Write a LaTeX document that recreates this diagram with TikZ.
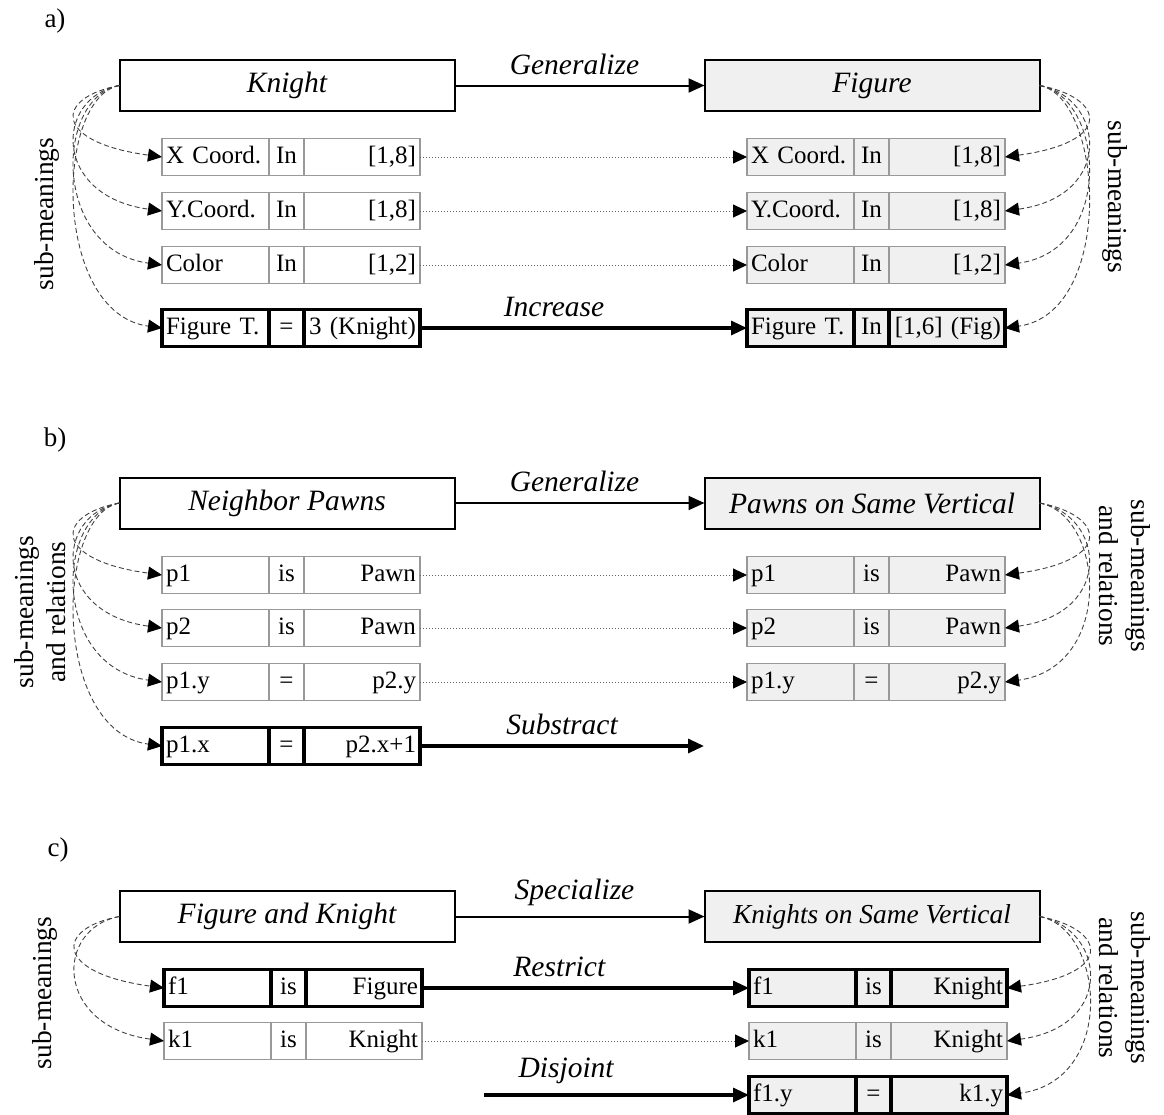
\documentclass[tikz,border=0pt]{standalone}
\usepackage{fontspec}
\setmainfont{Liberation Serif}
\usetikzlibrary{positioning,arrows.meta}

\tikzset{
  head/.style={draw, line width=1pt, minimum width=167.5pt, minimum height=25.5pt, outer sep=0pt, font=\fontsize{14.75}{17}\selectfont\itshape},
  cell/.style={draw=black!40, line width=0.6pt, minimum height=18.5pt, inner xsep=2pt, inner ysep=0pt, outer sep=0pt, text height=9pt, text depth=2.5pt, font=\fontsize{12.5}{14}\selectfont},
  c1/.style={anchor=west, text width=49.5pt, align=left},
  c2/.style={text width=13.5pt, align=center},
  c3/.style={text width=54pt, align=right},
  bold/.style={draw=black, line width=1.7pt},
  tinted/.style={fill=black!6},
  conn/.style={-{Triangle[length=8pt,width=7pt]}, line width=1pt},
  thickconn/.style={-{Triangle[length=8pt,width=7pt]}, line width=1.6pt},
  dots/.style={-{Triangle[length=7pt,width=6.5pt,color=black]}, densely dotted, draw=black!60, line width=0.5pt},
  sub/.style={-{Triangle[length=7pt,width=6.5pt,color=black]}, dash pattern=on 2.5pt off 1.5pt, draw=black!75, line width=0.45pt},
  lbl/.style={above, inner sep=5pt, font=\fontsize{14.75}{17}\selectfont\itshape},
  side/.style={font=\fontsize{13.7}{16}\selectfont, align=center},
  tag/.style={font=\fontsize{13.5}{16}\selectfont},
}

% one row of three cells: name, position, texts, extra style
\newcommand{\cellrow}[6]{%
  \node[cell,c1,#6] (#1-1) at (#2) {#3};
  \node[cell,c2,#6,right=0pt of #1-1] (#1-2) {#4};
  \node[cell,c3,#6,right=0pt of #1-2] (#1-3) {#5};
}

\begin{document}
\begin{tikzpicture}[x=0.5pt,y=-0.5pt]
  \useasboundingbox (0,0) rectangle (1164,1115);

  % a)
  \node[tag] (a-tag) at (55,21) {a)};
  \node[head] (a-kn) at (287,85.5) {Knight};
  \node[head,tinted] (a-fig) at (872,85.5) {Figure};
  \cellrow{a-l1}{162,157}{X Coord.}{In}{[1,8]}{}
  \cellrow{a-l2}{162,211}{Y.Coord.}{In}{[1,8]}{}
  \cellrow{a-l3}{162,265}{Color}{In}{[1,2]}{}
  \cellrow{a-l4}{162,328}{Figure T.}{=}{3 (Knight)}{bold}
  \cellrow{a-r1}{747,157}{X Coord.}{In}{[1,8]}{tinted}
  \cellrow{a-r2}{747,211}{Y.Coord.}{In}{[1,8]}{tinted}
  \cellrow{a-r3}{747,265}{Color}{In}{[1,2]}{tinted}
  \cellrow{a-r4}{747,328}{Figure T.}{In}{[1,6] (Fig)}{bold,tinted}
  \draw[conn] (a-kn) -- (a-fig) node[lbl,pos=.48] {Generalize};
  \draw[thickconn] (a-l4-3) -- (a-r4-1) node[lbl,pos=.41] {Increase};
  \foreach \r in {1,2,3} \draw[dots] (a-l\r-3) -- (a-r\r-1);
  \foreach \r in {1,...,4} {
    \draw[sub] (a-kn.west) .. controls +(-65,12) and +(-110,-15) .. (a-l\r-1.west);
    \draw[sub] (a-fig.east) .. controls +(65,12) and +(110,-15) .. (a-r\r-3.east);
  }
  \node[side,rotate=90] (a-ls) at (47,214) {sub-meanings};
  \node[side,rotate=-90] (a-rs) at (1115,197) {sub-meanings};

  % b)
  \node[tag] (b-tag) at (55,440) {b)};
  \node[head] (b-np) at (287,503) {Neighbor Pawns};
  \node[head,tinted] (b-sv) at (872,503) {Pawns on Same Vertical};
  \cellrow{b-l1}{162,575}{p1}{is}{Pawn}{}
  \cellrow{b-l2}{162,628}{p2}{is}{Pawn}{}
  \cellrow{b-l3}{162,682}{p1.y}{=}{p2.y}{}
  \cellrow{b-l4}{162,746}{p1.x}{=}{p2.x+1}{bold}
  \cellrow{b-r1}{747,575}{p1}{is}{Pawn}{tinted}
  \cellrow{b-r2}{747,628}{p2}{is}{Pawn}{tinted}
  \cellrow{b-r3}{747,682}{p1.y}{=}{p2.y}{tinted}
  \coordinate (b-end) at (704,746);
  \draw[conn] (b-np) -- (b-sv) node[lbl,pos=.48] {Generalize};
  \draw[thickconn] (b-l4-3) -- (b-end) node[lbl,pos=.5] {Substract};
  \foreach \r in {1,2,3} \draw[dots] (b-l\r-3) -- (b-r\r-1);
  \foreach \r in {1,...,4}
    \draw[sub] (b-np.west) .. controls +(-65,12) and +(-110,-15) .. (b-l\r-1.west);
  \foreach \r in {1,2,3}
    \draw[sub] (b-sv.east) .. controls +(65,12) and +(110,-15) .. (b-r\r-3.east);
  \node[side,rotate=90] (b-ls) at (40,612) {sub-meanings\\and relations};
  \node[side,rotate=-90] (b-rs) at (1125,576) {sub-meanings\\and relations};

  % c)
  \node[tag] (c-tag) at (58,850) {c)};
  \node[head] (c-fk) at (287,916.5) {Figure and Knight};
  \node[head,tinted,font=\fontsize{13.7}{16}\selectfont\itshape] (c-kv) at (872,916.5) {Knights on Same Vertical};
  \cellrow{c-l1}{164,988}{f1}{is}{Figure}{bold}
  \cellrow{c-l2}{164,1041}{k1}{is}{Knight}{}
  \cellrow{c-r1}{749,988}{f1}{is}{Knight}{bold,tinted}
  \cellrow{c-r2}{749,1041}{k1}{is}{Knight}{tinted}
  \cellrow{c-r3}{749,1095}{f1.y}{=}{k1.y}{bold,tinted}
  \coordinate (c-start) at (484,1095);
  \draw[conn] (c-fk) -- (c-kv) node[lbl,pos=.48] {Specialize};
  \draw[thickconn] (c-l1-3) -- (c-r1-1) node[lbl,pos=.42] {Restrict};
  \draw[thickconn] (c-start) -- (c-r3-1) node[lbl,pos=.31] {Disjoint};
  \draw[dots] (c-l2-3) -- (c-r2-1);
  \foreach \r in {1,2}
    \draw[sub] (c-fk.west) .. controls +(-65,12) and +(-110,-15) .. (c-l\r-1.west);
  \foreach \r in {1,2,3}
    \draw[sub] (c-kv.east) .. controls +(65,12) and +(110,-15) .. (c-r\r-3.east);
  \node[side,rotate=90] (c-ls) at (45,993) {sub-meanings};
  \node[side,rotate=-90] (c-rs) at (1125,988) {sub-meanings\\and relations};
\end{tikzpicture}
\end{document}
